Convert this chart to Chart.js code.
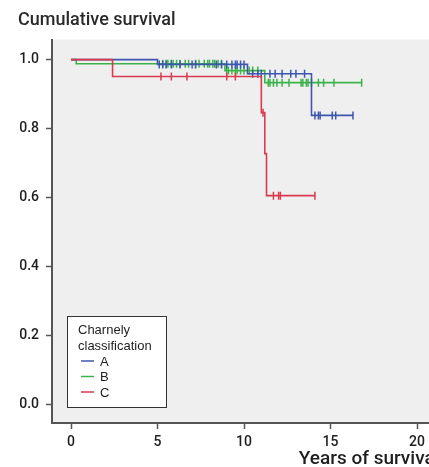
<!DOCTYPE html>
<html>
<head>
<meta charset="utf-8">
<title>Cumulative survival</title>
<script src="https://cdn.jsdelivr.net/npm/chart.js@4"></script>
<style>
  html, body { margin: 0; padding: 0; background: #fff; overflow: hidden; }
  #wrap { position: relative; width: 445px; height: 467px; }
</style>
</head>
<body>
<div id="wrap"><canvas id="survChart"></canvas></div>
<script>
/* ── Data ────────────────────────────────────── */
const GROUP_NAMES = ['A', 'B', 'C'];
const X_TICKS = [0, 5, 10, 15, 20];
const Y_TICKS = [0, 0.2, 0.4, 0.6, 0.8, 1.0];

// step curves: times where survival changes (last point = end of follow-up)
const A_TIMES = [0, 5.0, 10.2, 13.9, 16.3];
const A_SURV  = [1.0, 0.986, 0.959, 0.838, 0.838];
const B_TIMES = [0, 0.3, 8.9, 11.2, 16.8];
const B_SURV  = [1.0, 0.988, 0.968, 0.933, 0.933];
const C_TIMES = [0, 2.4, 11.0, 11.2, 11.3, 14.1];
const C_SURV  = [1.0, 0.951, 0.846, 0.727, 0.605, 0.605];

// censored cases
const A_CENSOR = [5.1, 5.3, 5.5, 5.8, 6.3, 7.0, 7.2, 8.4, 8.7, 9.0, 9.3, 9.5, 9.6, 9.8, 10.0,
                  10.5, 10.8, 11.0, 11.5, 11.8, 12.2, 12.7, 13.0, 13.5,
                  14.1, 14.3, 14.4, 15.1, 15.3, 16.3];
const B_CENSOR = [5.3, 5.5, 5.6, 5.8, 5.9, 6.1, 6.3, 6.6, 6.8, 7.2, 7.4, 7.7, 7.9, 8.0, 8.2, 8.3, 8.5, 8.7,
                  9.0, 9.1, 9.3, 9.5, 9.6, 9.8, 10.0, 10.3, 10.5, 10.8,
                  11.4, 11.5, 11.7, 11.9, 12.2, 12.6, 13.3, 13.4, 13.6, 13.7, 13.9, 14.3, 14.6, 15.2, 16.8];
const C_CENSOR = [5.2, 5.8, 6.7, 9.0, 9.5, 11.1, 11.7, 12.0, 12.1, 14.1];

/* ── Colours ─────────────────────────────────── */
const C_BLUE  = '#3d57ad';
const C_GREEN = '#3cb34a';
const C_RED   = '#d83a50';
const C_AXIS  = '#555';
const C_TEXT  = '#1e1e1e';
const FONT    = "Roboto, 'Liberation Sans', Arial, sans-serif";
const FONT_LEG = "'Liberation Sans', Arial, sans-serif";

/* ── Helpers ─────────────────────────────────── */
function survAt(times, surv, t) {
  let s = surv[0];
  for (let i = 0; i < times.length; i++) if (times[i] <= t) s = surv[i];
  return s;
}

function stepSet(name, times, surv, color) {
  return {
    label: name,
    data: times.map((t, i) => ({ x: t, y: surv[i] })),
    borderColor: color,
    borderWidth: 1.6,
    stepped: true,
    pointRadius: 0,
    fill: false,
  };
}

function censorSet(name, times, surv, censor, color) {
  return {
    label: name + ' censored',
    data: censor.map(t => ({ x: t, y: survAt(times, surv, t) })),
    showLine: false,
    borderColor: color,
    borderWidth: 1.5,
    pointStyle: 'line',
    rotation: 90,
    pointRadius: 4,
    pointHoverRadius: 4,
  };
}

/* ── Plugins ─────────────────────────────────── */
const plotBg = {
  id: 'plotBg',
  beforeDraw(chart) {
    const { ctx, chartArea: a } = chart;
    ctx.save();
    ctx.fillStyle = '#efefef';
    ctx.fillRect(a.left, a.top, a.right - a.left, a.bottom - a.top);
    ctx.restore();
  },
};

const boxLegend = {
  id: 'boxLegend',
  afterDraw(chart) {
    const { ctx } = chart;
    const colors = [C_BLUE, C_GREEN, C_RED];
    ctx.save();
    ctx.fillStyle = '#fff';
    ctx.fillRect(67.5, 316.5, 99, 91);
    ctx.strokeStyle = '#333';
    ctx.lineWidth = 1;
    ctx.strokeRect(67.5, 316.5, 99, 91);
    ctx.font = '13px ' + FONT_LEG;
    ctx.fillStyle = C_TEXT;
    ctx.textBaseline = 'middle';
    ctx.fillText('Charnely', 78, 330);
    ctx.fillText('classification', 78, 346);
    GROUP_NAMES.forEach((g, i) => {
      const y = 361 + i * 15.5;
      ctx.strokeStyle = colors[i];
      ctx.lineWidth = 1.5;
      ctx.beginPath();
      ctx.moveTo(81, y);
      ctx.lineTo(94, y);
      ctx.stroke();
      ctx.fillStyle = C_TEXT;
      ctx.fillText(g, 100, y + 1);
    });
    ctx.restore();
  },
};

/* ── Chart ───────────────────────────────────── */
const ctx = document.getElementById('survChart').getContext('2d');
new Chart(ctx, {
  type: 'line',
  data: {
    datasets: [
      // first dataset is drawn on top
      stepSet('C', C_TIMES, C_SURV, C_RED),
      censorSet('C', C_TIMES, C_SURV, C_CENSOR, C_RED),
      stepSet('A', A_TIMES, A_SURV, C_BLUE),
      censorSet('A', A_TIMES, A_SURV, A_CENSOR, C_BLUE),
      stepSet('B', B_TIMES, B_SURV, C_GREEN),
      censorSet('B', B_TIMES, B_SURV, B_CENSOR, C_GREEN),
    ],
  },
  options: {
    responsive: true,
    maintainAspectRatio: false,
    animation: false,
    layout: { padding: { left: 18, right: 5, top: 0, bottom: 0 } },
    plugins: {
      legend: { display: false },
      tooltip: { enabled: false },
      title: {
        display: true,
        text: 'Cumulative survival',
        align: 'start',
        color: '#2a2a2a',
        font: { family: FONT, size: 18, weight: '500' },
        padding: { top: 10, bottom: 8 },
      },
    },
    scales: {
      x: {
        type: 'linear',
        min: -1.1,
        max: 21.3,
        afterBuildTicks: s => { s.ticks = X_TICKS.map(v => ({ value: v })); },
        afterFit: s => { s.height = 44; },
        ticks: { color: C_TEXT, font: { family: FONT, size: 14, weight: '500' }, padding: 5, maxRotation: 0 },
        grid: { drawOnChartArea: false, tickLength: 6, color: C_AXIS, tickWidth: 1.5 },
        border: { color: C_AXIS, width: 2 },
        title: {
          display: true,
          text: 'Years of survival',
          align: 'end',
          color: C_TEXT,
          font: { family: FONT, size: 19, weight: '500' },
          padding: { top: 0, bottom: -4 },
        },
      },
      y: {
        type: 'linear',
        min: -0.055,
        max: 1.058,
        afterBuildTicks: s => { s.ticks = Y_TICKS.map(v => ({ value: v })); },
        afterFit: s => { s.width = 34; },
        ticks: { color: C_TEXT, font: { family: FONT, size: 14, weight: '500' }, padding: 7, callback: v => v.toFixed(1) },
        grid: { drawOnChartArea: false, tickLength: 6, color: C_AXIS, tickWidth: 1.5 },
        border: { color: C_AXIS, width: 2 },
      },
    },
  },
  plugins: [plotBg, boxLegend],
});
</script>
</body>
</html>
